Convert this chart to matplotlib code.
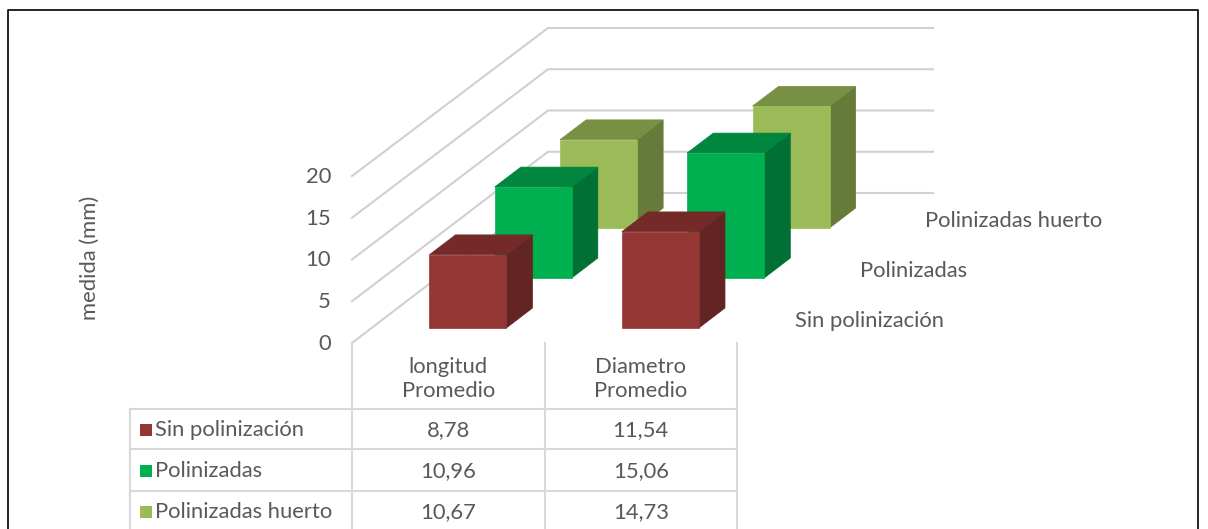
import numpy as np
import matplotlib
matplotlib.use('Agg')
import matplotlib.pyplot as plt
from matplotlib.patches import Polygon, Rectangle

plt.rcParams['font.family'] = ['Lato', 'DejaVu Sans']

# data
categories = ['longitud\nPromedio', 'Diametro\nPromedio']
series_names = ['Sin polinización', 'Polinizadas', 'Polinizadas huerto']
sin_polinizacion = [8.78, 11.54]
polinizadas = [10.96, 15.06]
polinizadas_huerto = [10.67, 14.73]
y_ticks = [0, 5, 10, 15, 20]

values = [sin_polinizacion, polinizadas, polinizadas_huerto]
# front, top, side colours per series
colors = [('#943634', '#732a28', '#632523'),
          ('#00b050', '#00873d', '#007034'),
          ('#9bbb59', '#789044', '#667b3a')]
txt = '#595959'
grid_c = '#d0d0d0'
fs = 15.8

# oblique projection of the 3d plot box
X0, Y0 = 352, 343
CAT_W = 192.5
DX, DY = 196, 150


def scale(z):
    return 8.35 - 0.10*z


def proj(c, v, z):
    return (X0 + c*CAT_W + z*DX, Y0 - z*DY - v*scale(z))


fig = plt.figure(figsize=(12.08, 5.29), dpi=100)
ax = fig.add_axes([0, 0, 1, 1])
ax.set_xlim(0, 1208)
ax.set_ylim(529, 0)
ax.axis('off')

# outer border
ax.plot([8, 8, 1198, 1198], [535, 10, 10, 535], color='black', lw=1.2, clip_on=False)

# gridlines (left wall + back wall)
for t in y_ticks:
    pts = [proj(0, t, 0), proj(0, t, 1), proj(len(categories), t, 1)]
    ax.plot([p[0] for p in pts], [p[1] for p in pts], color=grid_c, lw=1.5,
            solid_joinstyle='miter', zorder=1)
    fx, fy = proj(0, t, 0)
    ax.text(fx - 21, fy + 1, str(t), ha='right', va='center', fontsize=fs, color=txt)

ax.text(90, 258, 'medida (mm)', rotation=90, ha='center', va='center',
        fontsize=fs, color=txt)

# bars, back to front
for s in reversed(range(len(series_names))):
    z0 = (s + 0.3) / 3
    z1 = (s + 0.7) / 3
    fc, tc, sc = colors[s]
    for i, v in enumerate(values[s]):
        c0, c1 = i + 0.3, i + 0.7
        side = [proj(c1, 0, z0), proj(c1, 0, z1), proj(c1, v, z1), proj(c1, v, z0)]
        top = [proj(c0, v, z0), proj(c1, v, z0), proj(c1, v, z1), proj(c0, v, z1)]
        front = [proj(c0, 0, z0), proj(c1, 0, z0), proj(c1, v, z0), proj(c0, v, z0)]
        for poly, col in ((side, sc), (top, tc), (front, fc)):
            ax.add_patch(Polygon(poly, closed=True, fc=col, ec=col, lw=0.5, zorder=3))

# series labels along the depth axis
for s, name in enumerate(series_names):
    lx, ly = proj(len(categories), 0, (s + 0.5) / 3)
    ax.text(lx + 25, ly + 3, name, ha='left', va='center', fontsize=fs, color=txt)

# data table
tab_c = '#d9d9d9'
col_x = [X0 + k*CAT_W for k in range(len(categories) + 1)]
row_y = [409, 449, 491, 531]
left_x = 130
for x in col_x:
    ax.plot([x, x], [Y0, 531], color=tab_c, lw=1.5)
ax.plot([left_x, left_x], [row_y[0], 531], color=tab_c, lw=1.5)
for y in row_y[:-1]:
    ax.plot([left_x, col_x[-1]], [y, y], color=tab_c, lw=1.5)

for i, cat in enumerate(categories):
    cx = col_x[i] + CAT_W / 2
    ax.text(cx, 379, cat, ha='center', va='center', fontsize=fs, color=txt,
            linespacing=1.3)

for s, name in enumerate(series_names):
    cy = (row_y[s] + row_y[s + 1]) / 2 + 1
    ax.add_patch(Rectangle((140, cy - 6), 12, 12, fc=colors[s][0], ec='none'))
    ax.text(155, cy, name, ha='left', va='center', fontsize=fs, color=txt)
    for i, v in enumerate(values[s]):
        ax.text(col_x[i] + CAT_W / 2, cy, f'{v:.2f}'.replace('.', ','),
                ha='center', va='center', fontsize=fs, color=txt)

fig.savefig('out.png', dpi=100, facecolor='white')
